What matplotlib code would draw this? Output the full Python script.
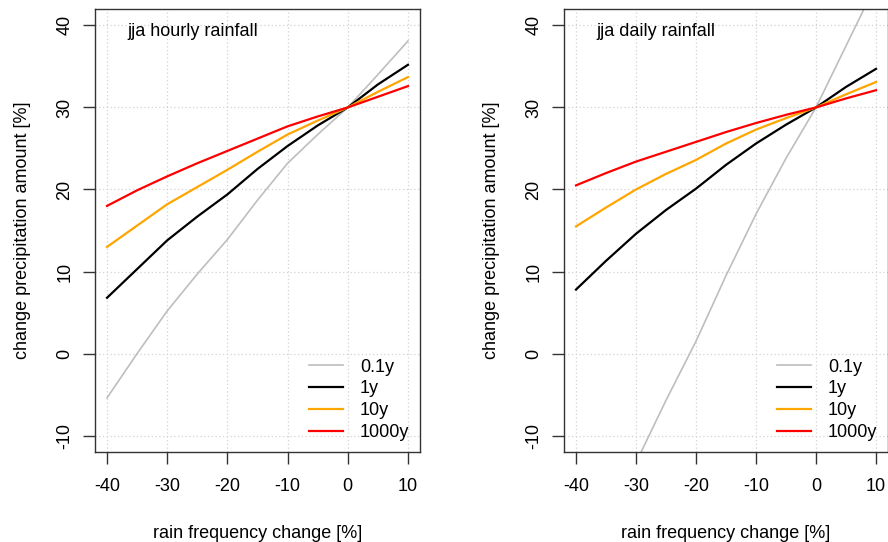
import matplotlib
matplotlib.use("Agg")
import matplotlib.pyplot as plt

plt.rcParams['font.family'] = ['Liberation Sans', 'DejaVu Sans']

freq_change = [-40, -35, -30, -25, -20, -15, -10, -5, 0, 5, 10]
labels = ["0.1y", "1y", "10y", "1000y"]
colors = ["#BEBEBE", "black", "#FFA500", "#FF0000"]
widths = [1.2, 1.6, 1.6, 1.6]

# hourly rainfall
hourly_01y = [-5.4, 0.0, 5.2, 9.7, 13.9, 18.7, 23.2, 26.7, 30.0, 34.0, 38.1]
hourly_1y = [6.8, 10.3, 13.8, 16.7, 19.4, 22.5, 25.3, 27.8, 30.0, 32.8, 35.2]
hourly_10y = [13.0, 15.6, 18.2, 20.3, 22.4, 24.6, 26.7, 28.4, 30.0, 31.9, 33.7]
hourly_1000y = [18.0, 19.9, 21.6, 23.2, 24.7, 26.2, 27.7, 28.9, 30.0, 31.3, 32.6]

# daily rainfall
daily_01y = [-27.0, -20.0, -13.3, -5.7, 1.5, 9.5, 17.0, 23.8, 30.0, 37.5, 45.0]
daily_1y = [7.8, 11.3, 14.6, 17.5, 20.1, 23.0, 25.6, 27.9, 30.0, 32.5, 34.7]
daily_10y = [15.5, 17.8, 20.0, 21.9, 23.6, 25.6, 27.3, 28.7, 30.0, 31.6, 33.1]
daily_1000y = [20.5, 22.0, 23.4, 24.6, 25.8, 27.0, 28.1, 29.1, 30.0, 31.1, 32.1]

xticks = [-40, -30, -20, -10, 0, 10]
yticks = [-10, 0, 10, 20, 30, 40]

fig = plt.figure(figsize=(8.88, 5.42), dpi=100)
W, H = 888, 542


def make_axes(left_px, right_px):
    return fig.add_axes([left_px / W, 1 - 452 / H, (right_px - left_px) / W, (452 - 9) / H])


def draw_panel(ax, series, title):
    for y, c, lw, lab in zip(series, colors, widths, labels):
        ax.plot(freq_change, y, color=c, lw=lw, label=lab)
    ax.set_xlim(-42, 12)
    ax.set_ylim(-12, 42)
    ax.set_xticks(xticks)
    ax.set_yticks(yticks)
    ax.set_xticklabels([str(t) for t in xticks])
    ax.set_yticklabels([str(t) for t in yticks], rotation=90, va='center')
    ax.grid(True, color='#D3D3D3', ls=(0, (1, 2)), lw=0.9)
    ax.set_axisbelow(True)
    for s in ax.spines.values():
        s.set_color('#333333')
        s.set_linewidth(1.0)
    ax.tick_params(axis='both', length=8.5, width=1.0, color='#333333', labelsize=13)
    ax.tick_params(axis='x', pad=10.5)
    ax.tick_params(axis='y', pad=7)
    ax.set_xlabel("rain frequency change [%]", fontsize=13, labelpad=21)
    ax.set_ylabel("change precipitation amount [%]", fontsize=13, labelpad=18)
    ax.text(-36.6, 39.3, title, fontsize=13, ha='left', va='center')
    ax.legend(loc='lower right', frameon=False, fontsize=13, handlelength=1.85,
              handletextpad=0.95, labelspacing=0.27, borderaxespad=0.2,
              bbox_to_anchor=(1.0, 0.0))


ax1 = make_axes(95, 420)
draw_panel(ax1, [hourly_01y, hourly_1y, hourly_10y, hourly_1000y], "jja hourly rainfall")
ax2 = make_axes(564, 888)
draw_panel(ax2, [daily_01y, daily_1y, daily_10y, daily_1000y], "jja daily rainfall")

fig.savefig("out.png", dpi=100)
